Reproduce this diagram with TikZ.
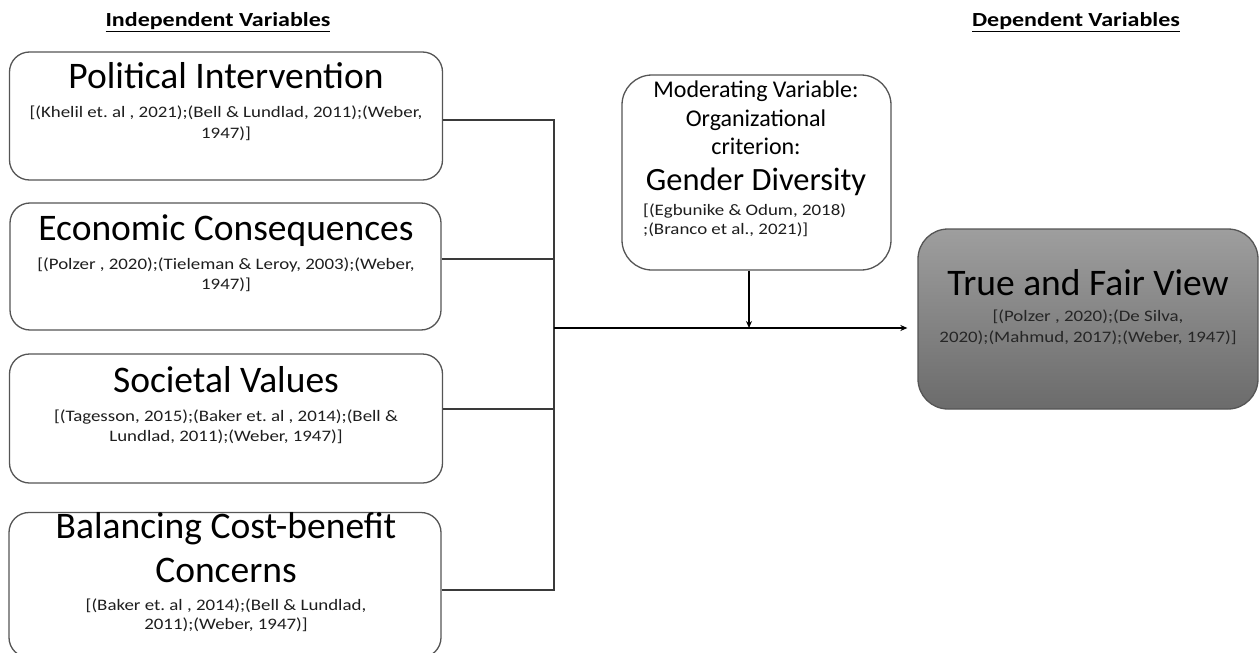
\documentclass[tikz,border=0pt]{standalone}
\usepackage{fontspec}
\setmainfont{Carlito}
\newfontfamily\citefont[FakeStretch=1.18]{Carlito}
\newfontfamily\headfont[FakeStretch=1.2]{Carlito}
\usetikzlibrary{arrows.meta}
\definecolor{boxline}{HTML}{555555}
\definecolor{conline}{HTML}{3A3A3A}
\definecolor{citetext}{HTML}{1E1E1E}
\tikzset{
  ivbox/.style={draw=boxline, line width=1.3pt, rounded corners=20pt, fill=white, inner sep=0pt},
  bigtitle/.style={font=\fontsize{37.5}{44}\selectfont, inner sep=0pt, anchor=base},
  cite/.style={font=\citefont\fontsize{16}{20}\selectfont, text=citetext, inner sep=0pt, anchor=base},
  modtext/.style={font=\fontsize{24}{29}\selectfont, inner sep=0pt, anchor=base},
  heading/.style={font=\headfont\bfseries\fontsize{20}{24}\selectfont, inner sep=0pt, anchor=base},
  conn/.style={draw=conline, line width=1.6pt},
  arr/.style={draw=black, line width=1.2pt, -{Stealth[length=7pt,width=6pt]}}
}
\begin{document}
\frenchspacing
\begin{tikzpicture}[x=1pt,y=-1pt]
\useasboundingbox (0,0) rectangle (1259,653);

% headings
\node[heading] (hind) at (218,27) {\underline{Independent Variables}};
\node[heading] (hdep) at (1076,27) {\underline{Dependent Variables}};

% independent boxes
\node[ivbox, minimum width=433pt, minimum height=128pt] (pol) at (226,116) {};
\node[bigtitle] (polt) at (226,88) {Political Intervention};
\node[cite] (polc1) at (226,117) {[(Khelil et. al , 2021);(Bell \& Lundlad, 2011);(Weber,};
\node[cite] (polc2) at (226,138) {1947)]};

\node[ivbox, minimum width=431pt, minimum height=127pt] (eco) at (225.5,266.5) {};
\node[bigtitle] (ecot) at (226,240) {Economic Consequences};
\node[cite] (ecoc1) at (226,269) {[(Polzer , 2020);(Tieleman \& Leroy, 2003);(Weber,};
\node[cite] (ecoc2) at (226,289) {1947)]};

\node[ivbox, minimum width=433pt, minimum height=129pt] (soc) at (226,418.5) {};
\node[bigtitle] (soct) at (226,392) {Societal Values};
\node[cite] (socc1) at (226,421) {[(Tagesson, 2015);(Baker et. al , 2014);(Bell \&};
\node[cite] (socc2) at (226,441) {Lundlad, 2011);(Weber, 1947)]};

\node[ivbox, minimum width=432pt, minimum height=145pt] (bal) at (225,585) {};
\node[bigtitle] (balt1) at (226,538) {Balancing Cost-benefit};
\node[bigtitle] (balt2) at (226,582) {Concerns};
\node[cite] (balc1) at (226,610) {[(Baker et. al , 2014);(Bell \& Lundlad,};
\node[cite] (balc2) at (226,629) {2011);(Weber, 1947)]};

% moderator
\node[ivbox, minimum width=269pt, minimum height=195pt, rounded corners=30pt] (mod) at (756.5,172.5) {};
\node[modtext] (modt1) at (756,97) {Moderating Variable:};
\node[modtext] (modt2) at (756,126) {Organizational};
\node[modtext] (modt3) at (756,154) {criterion:};
\node[font=\fontsize{32.5}{38}\selectfont, inner sep=0pt, anchor=base] (modt4) at (756,190) {Gender Diversity};
\node[cite, anchor=base west] (modc1) at (643,215) {[(Egbunike \& Odum, 2018)};
\node[cite, anchor=base west] (modc2) at (643,234) {;(Branco et al., 2021)]};

% dependent
\node[draw=boxline, line width=1.3pt, rounded corners=30pt, top color=black!38, bottom color=black!58,
      minimum width=340pt, minimum height=180pt, inner sep=0pt] (tfv) at (1088,319) {};
\node[bigtitle] (tfvt) at (1088,295) {True and Fair View};
\node[cite, text=black!85] (tfvc1) at (1088,321) {[(Polzer , 2020);(De Silva,};
\node[cite, text=black!85] (tfvc2) at (1088,342) {2020);(Mahmud, 2017);(Weber, 1947)]};

% connectors
\coordinate (s1) at (554,120);
\coordinate (s2) at (554,259);
\coordinate (s3) at (554,409);
\coordinate (s4) at (554,590);
\coordinate (sj) at (554,328);
\coordinate (mj) at (749,328);

\draw[conn] (pol.east |- s1) -- (s1);
\draw[conn] (eco.east |- s2) -- (s2);
\draw[conn] (soc.east |- s3) -- (s3);
\draw[conn] (bal.east |- s4) -- (s4);
\draw[conn, line cap=rect] (s1) -- (s4);
\draw[arr] (sj) -- ([xshift=-10pt]tfv.west |- sj);
\draw[arr] (mod.south -| mj) -- (mj);
\end{tikzpicture}
\end{document}
